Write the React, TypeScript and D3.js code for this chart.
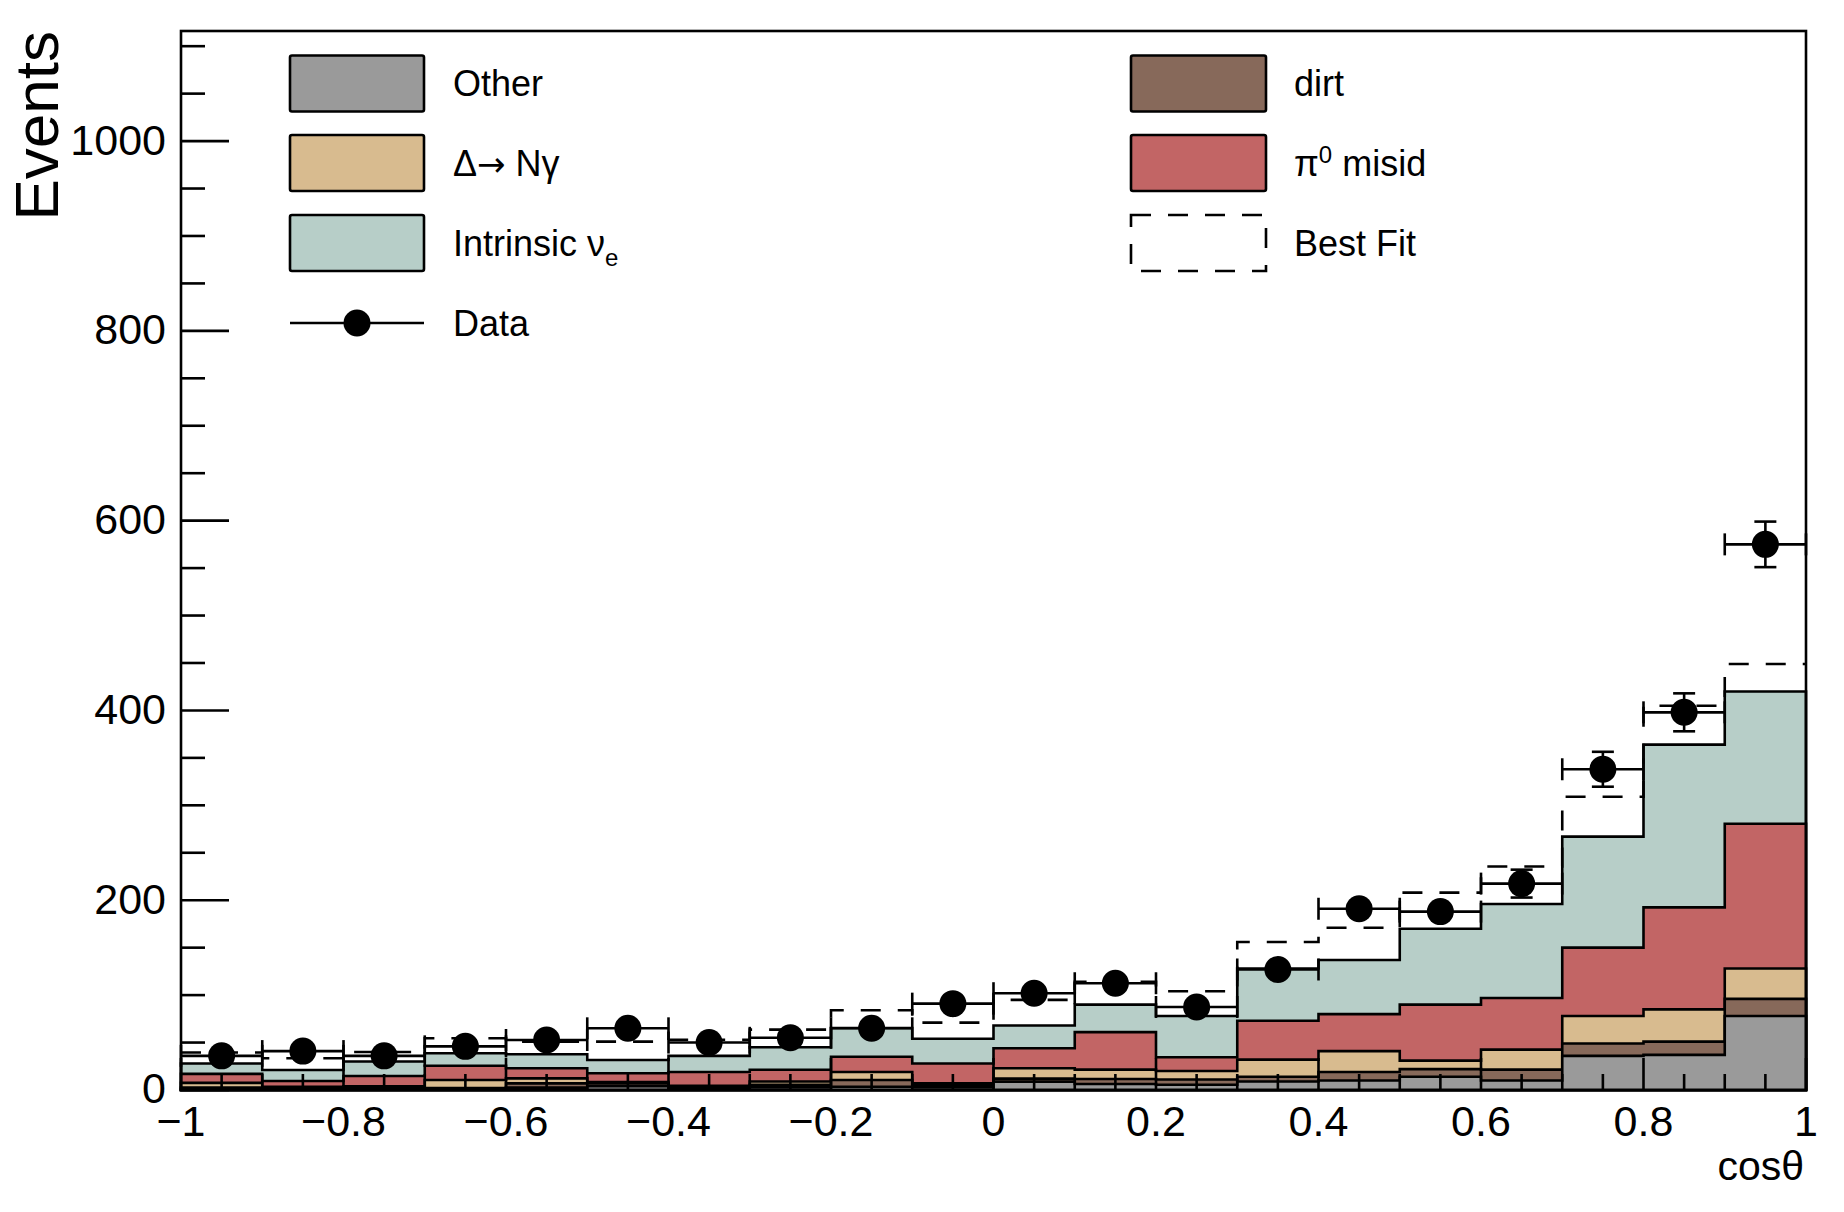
import { useEffect } from 'react';
import * as d3 from 'd3';

// cos(theta) bins, -1 .. 1 in steps of 0.1
const binEdges = [-1, -0.9, -0.8, -0.7, -0.6, -0.5, -0.4, -0.3, -0.2, -0.1, 0, 0.1, 0.2, 0.3, 0.4, 0.5, 0.6, 0.7, 0.8, 0.9, 1];

// stacked backgrounds, bottom to top (values per bin, not cumulative)
const other = [1, 1, 1, 1, 2.5, 4, 2, 3, 3.5, 3, 8.8, 6.3, 5.6, 9, 10, 14, 10, 36, 37, 78];
const dirt = [1.5, 1, 1, 1, 4.5, 3, 1, 2.5, 7, 2.5, 3.2, 5.3, 5.4, 5, 9, 8, 11.5, 13, 14, 18];
const deltaNgamma = [5, 1.5, 2, 8.5, 5.3, 1.5, 1.5, 3.5, 8.5, 1.5, 11, 9.9, 9, 18, 22, 9, 21, 29, 34, 32];
const pi0Misid = [9.5, 6, 10.8, 15, 10.7, 9.1, 14.5, 12.4, 16, 21, 21, 39.5, 14.5, 41, 39, 59, 54.5, 72, 107.5, 152.6];
const intrinsicNue = [11, 11.5, 15.2, 13.2, 14.6, 14, 17, 23.6, 30.4, 26, 24, 29, 43.5, 55, 57, 80, 99, 117, 171.5, 139.4];

const bestFit = [39.5, 33.5, 40, 54.5, 51, 51, 53, 63.6, 84, 71, 95, 114, 104, 156, 171, 208, 235.5, 309, 405, 449];
const dataCounts = [36, 41, 36, 46, 52.7, 65, 50, 55, 65, 91, 102, 112.5, 87.5, 127, 191, 188, 217.5, 338, 398, 575];
const dataErrors = [6, 6.4, 6, 6.8, 7.3, 8, 7.1, 7.4, 8, 9.5, 10, 10.6, 9.4, 11.3, 13.8, 13.7, 14.7, 18.4, 20, 24];

const yTickLabels = [0, 200, 400, 600, 800, 1000];
const xTickLabels = [-1, -0.8, -0.6, -0.4, -0.2, 0, 0.2, 0.4, 0.6, 0.8, 1];

const keys = ['other', 'dirt', 'delta', 'pi0', 'nue'] as const;
const colors: Record<string, string> = {
  other: '#9a9a9a',
  dirt: '#87695a',
  delta: '#d8bb8f',
  pi0: '#c26565',
  nue: '#b7cec8',
};

const W = 1844;
const H = 1212;
const left = 181;
const right = 1806;
const top = 31;
const bottom = 1090;
const font = '"Liberation Sans", Arial, Helvetica, sans-serif';

const x = d3.scaleLinear().domain([-1, 1]).range([left, right]);
const y = d3.scaleLinear().domain([0, 1116]).range([bottom, top]);

type Pt = [number, number];
const stepPts = (vals: number[]): Pt[] => [
  ...vals.map((v, i) => [binEdges[i], v] as Pt),
  [binEdges[binEdges.length - 1], vals[vals.length - 1]],
];

const area = d3
  .area<Pt>()
  .x((d) => x(d[0]))
  .y0(y(0))
  .y1((d) => y(d[1]))
  .curve(d3.curveStepAfter);

const line = d3
  .line<Pt>()
  .x((d) => x(d[0]))
  .y((d) => y(d[1]))
  .curve(d3.curveStepAfter);

const App = () => {
  useEffect(() => {
    document.body.style.margin = '0';
  }, []);

  const rows = binEdges.slice(0, -1).map((_, i) => ({
    other: other[i],
    dirt: dirt[i],
    delta: deltaNgamma[i],
    pi0: pi0Misid[i],
    nue: intrinsicNue[i],
  }));
  const stacked = d3.stack<any>().keys(keys as any)(rows);
  // draw from the top layer down so each lower layer covers the one above
  const layers = [...stacked].reverse();

  const r = 13.5;
  const cap = 11;
  const lw = 2.6;

  const yMinor = d3.range(0, 1101, 50);
  const xMinor = d3.range(-1, 1.0001, 0.05);

  const legendLeft = [
    { label: 'Other', key: 'other' },
    { label: 'delta', key: 'delta' },
    { label: 'nue', key: 'nue' },
  ];
  const rowY = [83.5, 163, 243, 323];

  return (
    <svg width={W} height={H} style={{ display: 'block', background: '#fff' }} fontFamily={font}>
      {layers.map((s) => (
        <path
          key={s.key}
          d={area(stepPts(s.map((d) => d[1]))) ?? ''}
          fill={colors[s.key]}
          stroke="#000"
          strokeWidth={lw}
          strokeLinejoin="miter"
        />
      ))}

      <path
        d={line(stepPts(bestFit)) ?? ''}
        fill="none"
        stroke="#000"
        strokeWidth={lw}
        strokeDasharray="20 17"
      />

      {dataCounts.map((v, i) => {
        const x0 = x(binEdges[i]);
        const x1 = x(binEdges[i + 1]);
        const cx = (x0 + x1) / 2;
        const cy = y(v);
        const yHi = y(v + dataErrors[i]);
        const yLo = y(v - dataErrors[i]);
        const showV = cy - yHi > r;
        return (
          <g key={i} stroke="#000" strokeWidth={lw}>
            <line x1={x0} x2={x1} y1={cy} y2={cy} />
            <line x1={x0} x2={x0} y1={cy - cap} y2={cy + cap} />
            <line x1={x1} x2={x1} y1={cy - cap} y2={cy + cap} />
            {showV && (
              <>
                <line x1={cx} x2={cx} y1={yHi} y2={yLo} />
                <line x1={cx - cap} x2={cx + cap} y1={yHi} y2={yHi} />
                <line x1={cx - cap} x2={cx + cap} y1={yLo} y2={yLo} />
              </>
            )}
            <circle cx={cx} cy={cy} r={r} fill="#000" stroke="none" />
          </g>
        );
      })}

      {/* axes */}
      <g stroke="#000" strokeWidth={lw}>
        {yMinor.map((t) => (
          <line key={t} x1={left} x2={left + (t % 200 === 0 ? 48 : 24)} y1={y(t)} y2={y(t)} />
        ))}
        {xMinor.map((t, i) => (
          <line
            key={i}
            x1={x(t)}
            x2={x(t)}
            y1={bottom}
            y2={bottom - (i % 4 === 0 ? 32 : 16)}
          />
        ))}
      </g>
      <rect x={left} y={top} width={right - left} height={bottom - top} fill="none" stroke="#000" strokeWidth={lw} />

      {yTickLabels.map((t) => (
        <text key={t} x={166} y={y(t) - 2} dy="0.36em" textAnchor="end" fontSize={43}>
          {t}
        </text>
      ))}
      {xTickLabels.map((t) => (
        <text key={t} x={x(t)} y={1136} textAnchor="middle" fontSize={43}>
          {t < 0 ? '\u2212' + Math.abs(t) : String(t)}
        </text>
      ))}
      <text transform={`translate(58,31) rotate(-90)`} textAnchor="end" fontSize={62}>
        Events
      </text>
      <text x={1804} y={1180} textAnchor="end" fontSize={41}>
        cosθ
      </text>

      {/* legend */}
      <g fontSize={36}>
        {legendLeft.map((l, i) => (
          <rect
            key={l.key}
            x={290}
            y={rowY[i] - 28}
            width={134}
            height={56}
            rx={2}
            fill={colors[l.key]}
            stroke="#000"
            strokeWidth={lw}
          />
        ))}
        <text x={453} y={rowY[0]} dy="0.36em">Other</text>
        <text x={453} y={rowY[1]} dy="0.36em">
          Δ<tspan fontFamily='"DejaVu Sans", sans-serif' fontSize={34}>→</tspan> Nγ
        </text>
        <text x={453} y={rowY[2]} dy="0.36em">
          Intrinsic ν<tspan dy={10} fontSize={24}>e</tspan>
        </text>
        <line x1={290} x2={424} y1={rowY[3]} y2={rowY[3]} stroke="#000" strokeWidth={lw} />
        <circle cx={357} cy={rowY[3]} r={r} fill="#000" />
        <text x={453} y={rowY[3]} dy="0.36em">Data</text>

        <rect x={1131} y={rowY[0] - 28} width={135} height={56} rx={2} fill={colors.dirt} stroke="#000" strokeWidth={lw} />
        <rect x={1131} y={rowY[1] - 28} width={135} height={56} rx={2} fill={colors.pi0} stroke="#000" strokeWidth={lw} />
        <rect
          x={1131}
          y={rowY[2] - 28}
          width={135}
          height={56}
          fill="none"
          stroke="#000"
          strokeWidth={lw}
          strokeDasharray="20 17"
        />
        <text x={1294} y={rowY[0]} dy="0.36em">dirt</text>
        <text x={1294} y={rowY[1]} dy="0.36em">
          π<tspan dy={-13} fontSize={24}>0</tspan>
          <tspan dy={13}> misid</tspan>
        </text>
        <text x={1294} y={rowY[2]} dy="0.36em">Best Fit</text>
      </g>
    </svg>
  );
};

export default App;
